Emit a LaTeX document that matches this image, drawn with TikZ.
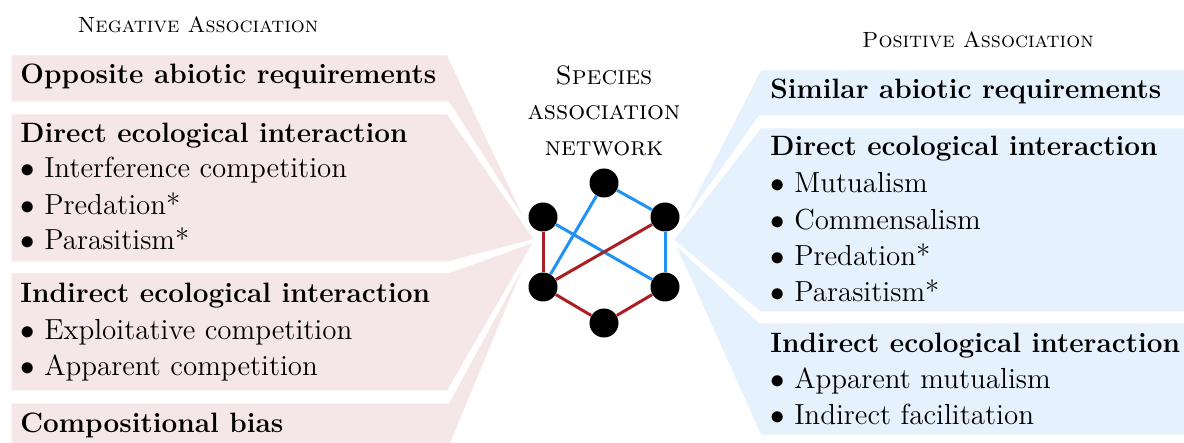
\documentclass[tikz,border=0pt]{standalone}
\usepackage{tikz}
\usetikzlibrary{positioning}

\definecolor{negfill}{RGB}{245,230,231}
\definecolor{posfill}{RGB}{229,241,253}
\definecolor{poslinkcol}{RGB}{33,146,245}
\definecolor{neglinkcol}{RGB}{170,30,36}

\begin{document}
\begin{tikzpicture}[x=0.5pt, y=-0.5pt,
  negpanel/.style={fill=negfill, draw=white, line width=1.5pt, line join=round},
  pospanel/.style={fill=posfill, draw=white, line width=1.5pt, line join=round},
  head/.style={anchor=base west, inner sep=0pt, font=\fontsize{14}{17}\selectfont\bfseries},
  item/.style={anchor=base west, inner sep=0pt, font=\fontsize{14.5}{17}\selectfont},
  title/.style={anchor=base, inner sep=0pt, font=\fontsize{11}{13}\selectfont\scshape},
  nettitle/.style={title, font=\fontsize{13.3}{16}\selectfont\scshape},
  species/.style={circle, fill=black, minimum size=14.5pt, inner sep=0pt},
  poslink/.style={poslinkcol, line width=1.5pt},
  neglink/.style={neglinkcol, line width=1.5pt}]

\useasboundingbox (0,0) rectangle (1184,443);

% fans of the two sides, all meeting near the network
\begin{scope}
\clip (0,0) rectangle (1184,443);
\coordinate (negtip) at (536,240);
\coordinate (postip) at (672,240);

\draw[negpanel] (10,54) -- (448,54) -- (negtip) -- (448,103) -- (10,103) -- cycle;
\draw[negpanel] (10,113) -- (448,113) -- (negtip) -- (448,263) -- (10,263) -- cycle;
\draw[negpanel] (10,272) -- (448,272) -- (negtip) -- (448,392) -- (10,392) -- cycle;
\draw[negpanel] (10,402) -- (448,402) -- (negtip) -- (448,452) -- (10,452) -- cycle;

\draw[pospanel] (1190,69) -- (760,69) -- (postip) -- (760,117) -- (1190,117) -- cycle;
\draw[pospanel] (1190,127) -- (760,127) -- (postip) -- (760,313) -- (1190,313) -- cycle;
\draw[pospanel] (1190,322) -- (760,322) -- (postip) -- (760,436) -- (1190,436) -- cycle;
\end{scope}

% headings
\node[title] (negtitle) at (198,33) {Negative Association};
\node[title] (postitle) at (978,48) {Positive Association};
\node[nettitle] (nettitle1) at (604,85) {Species};
\node[nettitle] (nettitle2) at (604,120) {association};
\node[nettitle] (nettitle3) at (604,156) {network};

% negative side
\node[head] (oppabio) at (20,84) {Opposite abiotic requirements};
\node[head] (negdirect) at (20,143) {Direct ecological interaction};
\node[item] (interf) at (20,178) {$\bullet$ Interference competition};
\node[item] (negpred) at (20,215) {$\bullet$ Predation*};
\node[item] (negpara) at (20,250) {$\bullet$ Parasitism*};
\node[head] (negindirect) at (20,303) {Indirect ecological interaction};
\node[item] (exploit) at (20,340) {$\bullet$ Exploitative competition};
\node[item] (appcomp) at (20,376) {$\bullet$ Apparent competition};
\node[head] (compbias) at (20,432) {Compositional bias};

% positive side
\node[head] (simabio) at (770,99) {Similar abiotic requirements};
\node[head] (posdirect) at (770,156) {Direct ecological interaction};
\node[item] (mutual) at (770,193) {$\bullet$ Mutualism};
\node[item] (commens) at (770,230) {$\bullet$ Commensalism};
\node[item] (pospred) at (770,266) {$\bullet$ Predation*};
\node[item] (pospara) at (770,302) {$\bullet$ Parasitism*};
\node[head] (posindirect) at (770,352) {Indirect ecological interaction};
\node[item] (appmut) at (770,388) {$\bullet$ Apparent mutualism};
\node[item] (indfac) at (770,424) {$\bullet$ Indirect facilitation};

% the network
\node[species] (sp1) at (604,183) {};
\node[species] (sp2) at (543,217) {};
\node[species] (sp3) at (665,217) {};
\node[species] (sp4) at (543,287) {};
\node[species] (sp5) at (665,287) {};
\node[species] (sp6) at (604,323) {};

\draw[poslink] (sp1) -- (sp3);
\draw[poslink] (sp1) -- (sp4);
\draw[poslink] (sp2) -- (sp5);
\draw[poslink] (sp3) -- (sp5);
\draw[neglink] (sp2) -- (sp4);
\draw[neglink] (sp4) -- (sp3);
\draw[neglink] (sp4) -- (sp6);
\draw[neglink] (sp6) -- (sp5);
\end{tikzpicture}
\end{document}
